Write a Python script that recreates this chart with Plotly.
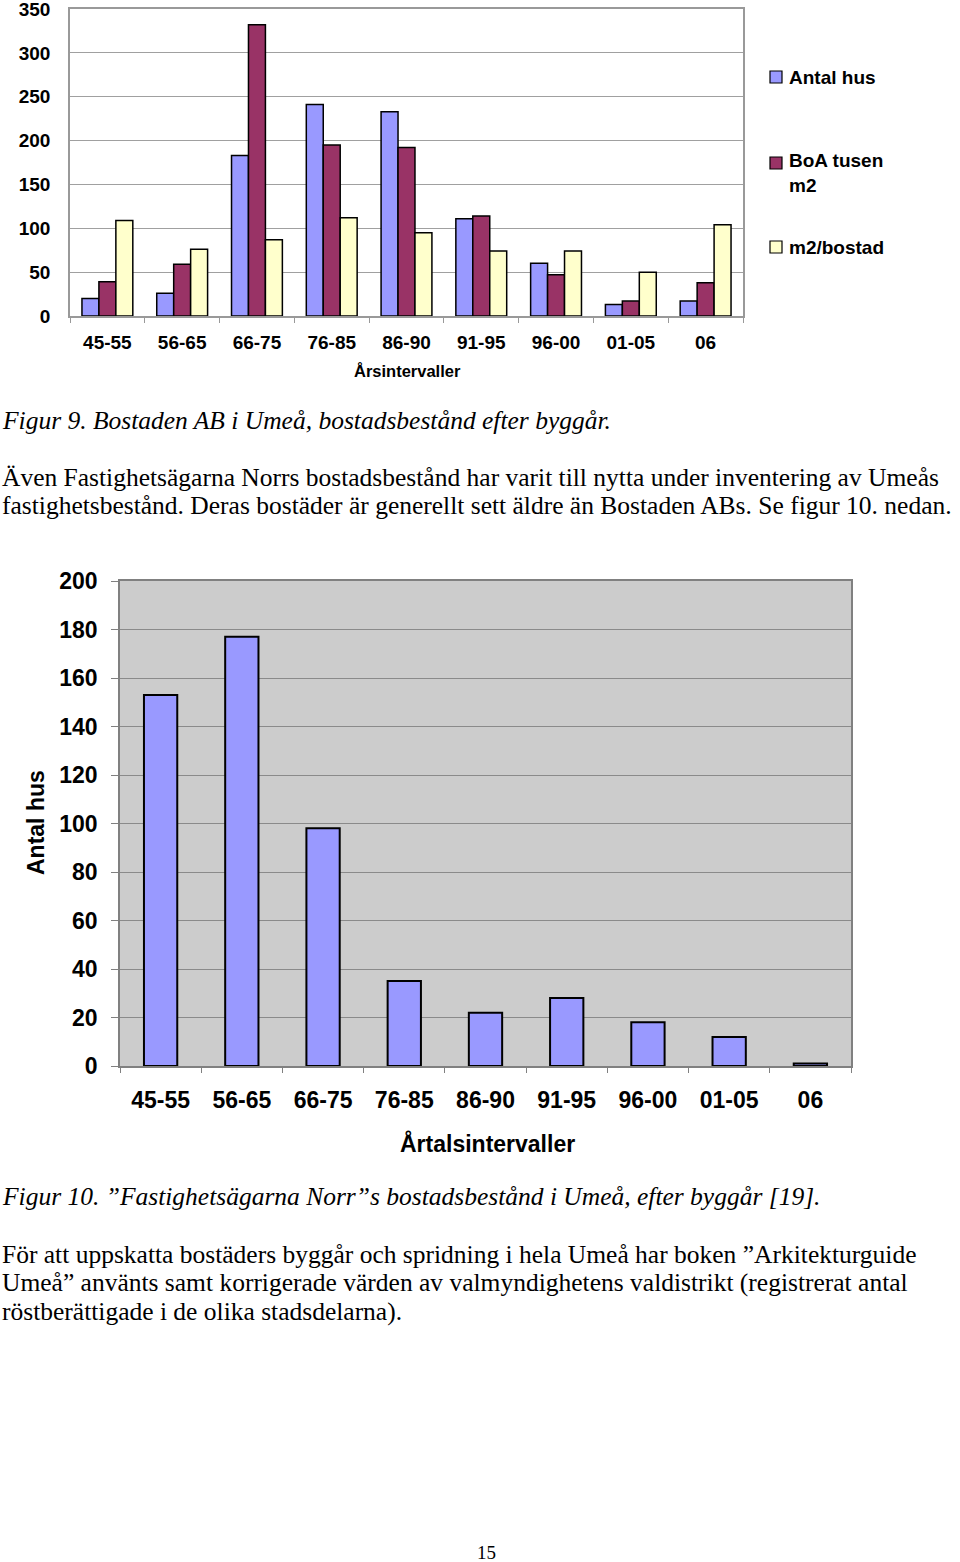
import plotly.graph_objects as go

# ---------------- data ----------------
categories = ["45-55", "56-65", "66-75", "76-85", "86-90", "91-95", "96-00", "01-05", "06"]
antal_hus = [20, 26, 183, 241, 233, 111, 60, 13, 17]
boa_tusen_m2 = [39, 59, 332, 195, 192, 114, 47, 17, 38]
m2_per_bostad = [109, 76, 87, 112, 95, 74, 74, 50, 104]
series_names = ["Antal hus", "BoA tusen<br>m2", "m2/bostad"]
series_colors = ["#9999FF", "#993366", "#FFFFCC"]

fn_antal_hus = [153, 177, 98, 35, 22, 28, 18, 12, 1]

y1_ticks = [0, 50, 100, 150, 200, 250, 300, 350]
y2_ticks = [0, 20, 40, 60, 80, 100, 120, 140, 160, 180, 200]

W, H = 960, 1562
def px(x):
    return x / W
def py(y):
    return 1 - y / H

SANS = "Liberation Sans, Arial, sans-serif"
SERIF = "Liberation Serif, Times New Roman, serif"

fig = go.Figure()

for vals, name, col in zip([antal_hus, boa_tusen_m2, m2_per_bostad], series_names, series_colors):
    fig.add_trace(go.Bar(
        x=categories, y=vals, name=name, xaxis="x", yaxis="y",
        marker=dict(color=col, line=dict(color="black", width=1.5)),
        showlegend=False,
    ))

fig.add_trace(go.Bar(
    x=categories, y=fn_antal_hus, name="Antal hus", xaxis="x2", yaxis="y2",
    width=0.41,
    marker=dict(color="#9999FF", line=dict(color="black", width=2)),
    showlegend=False,
))

fig.update_layout(
    width=W, height=H,
    margin=dict(l=0, r=0, t=0, b=0, autoexpand=False),
    paper_bgcolor="white",
    plot_bgcolor="white",
    showlegend=False,
    barmode="group",
    bargap=0.32,
    bargroupgap=0,
    xaxis=dict(
        domain=[px(70), px(743)], anchor="y", automargin=False,
        type="category", tickson="boundaries",
        ticks="outside", ticklen=5, tickcolor="#999999",
        showline=True, linecolor="#999999", linewidth=1.5, mirror=True,
        showgrid=False,
        tickfont=dict(family=SANS, size=19, color="black", weight="bold"),
        ticklabelstandoff=8,
    ),
    yaxis=dict(
        domain=[py(316), py(9)], anchor="x", automargin=False,
        range=[0, 350], tickvals=y1_ticks,
        showgrid=True, gridcolor="#A0A0A0", gridwidth=1,
        showline=True, linecolor="#999999", linewidth=1.5, mirror=True,
        zeroline=False, ticks="",
        tickfont=dict(family=SANS, size=19, color="black", weight="bold"),
        ticklabelstandoff=14,
        ticklabeloverflow="allow",
    ),
    xaxis2=dict(
        domain=[px(120), px(851)], anchor="y2", automargin=False,
        type="category", tickson="boundaries",
        ticks="outside", ticklen=5, tickcolor="#808080",
        showline=True, linecolor="#808080", linewidth=1.5, mirror=True,
        showgrid=False,
        tickfont=dict(family=SANS, size=23, color="black", weight="bold"),
        ticklabelstandoff=13,
    ),
    yaxis2=dict(
        domain=[py(1066), py(581)], anchor="x2", automargin=False,
        range=[0, 200], tickvals=y2_ticks,
        showgrid=True, gridcolor="#8A8A8A", gridwidth=1.2,
        showline=True, linecolor="#808080", linewidth=1.5, mirror=True,
        zeroline=False, ticks="outside", ticklen=7, tickcolor="#808080",
        tickfont=dict(family=SANS, size=23, color="black", weight="bold"),
        ticklabelstandoff=9,
    ),
)

fig.add_shape(type="rect", xref="x2 domain", yref="y2 domain", x0=0, x1=1, y0=0, y1=1,
              fillcolor="#CCCCCC", line=dict(width=0), layer="below")

annotations = []
annotations.append(dict(text="<b>Årsintervaller</b>", x=px(407), y=py(371), xref="paper", yref="paper",
                        showarrow=False, font=dict(family=SANS, size=16.5, color="black"),
                        xanchor="center", yanchor="middle"))
annotations.append(dict(text="<b>Årtalsintervaller</b>", x=px(487), y=py(1143), xref="paper", yref="paper",
                        showarrow=False, font=dict(family=SANS, size=23, color="black"),
                        xanchor="center", yanchor="middle"))
annotations.append(dict(text="<b>Antal hus</b>", x=px(36), y=py(823), xref="paper", yref="paper",
                        showarrow=False, textangle=-90, font=dict(family=SANS, size=23, color="black"),
                        xanchor="center", yanchor="middle"))

legend_rows = [77, 163, 247]
legend_text_y = [77, 173, 247]
for name, col, ry, ty in zip(series_names, series_colors, legend_rows, legend_text_y):
    fig.add_shape(type="rect", xref="paper", yref="paper",
                  x0=px(770), x1=px(782), y0=py(ry + 6), y1=py(ry - 6),
                  fillcolor=col, line=dict(color="black", width=1.2))
    annotations.append(dict(text="<b>" + name + "</b>", x=px(787), y=py(ty), xref="paper", yref="paper",
                            showarrow=False, align="left", xanchor="left", yanchor="middle",
                            font=dict(family=SANS, size=19, color="black")))

text_lines = [
    ("<i>Figur 9. Bostaden AB i Umeå, bostadsbestånd efter byggår.</i>", 420),
    ("Även Fastighetsägarna Norrs bostadsbestånd har varit till nytta under inventering av Umeås", 477),
    ("fastighetsbestånd. Deras bostäder är generellt sett äldre än Bostaden ABs. Se figur 10. nedan.", 505),
    ("<i>Figur 10. ”Fastighetsägarna Norr”s bostadsbestånd i Umeå, efter byggår [19].</i>", 1196),
    ("För att uppskatta bostäders byggår och spridning i hela Umeå har boken ”Arkitekturguide", 1254),
    ("Umeå” använts samt korrigerade värden av valmyndighetens valdistrikt (registrerat antal", 1282),
    ("röstberättigade i de olika stadsdelarna).", 1311),
]
for t, yy in text_lines:
    annotations.append(dict(text=t, x=0, y=py(yy), xref="paper", yref="paper",
                            showarrow=False, xanchor="left", yanchor="middle",
                            font=dict(family=SERIF, size=25.5, color="black")))
annotations.append(dict(text="15", x=px(486), y=py(1552), xref="paper", yref="paper",
                        showarrow=False, xanchor="center", yanchor="middle",
                        font=dict(family=SERIF, size=19, color="black")))

fig.update_layout(annotations=annotations)

# remove the browser's default 8px body margin so the figure fills the page
fig.write_html("out.html", config={"displayModeBar": False},
               post_script="document.body.style.margin='0px';")
